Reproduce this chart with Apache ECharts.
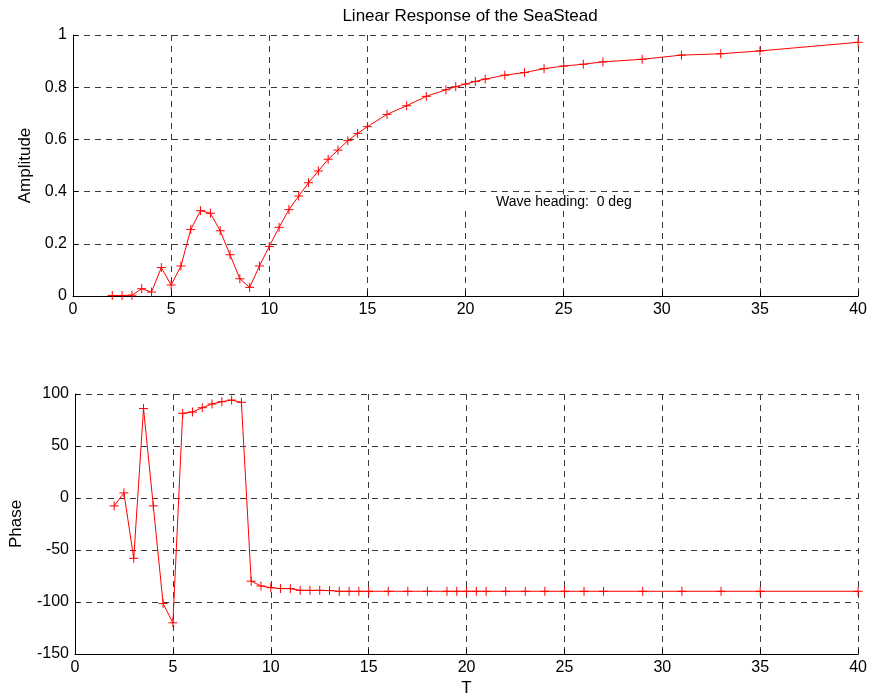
<!DOCTYPE html>
<html>
<head>
<meta charset="utf-8">
<title>Linear Response of the SeaStead</title>
<script src="https://cdn.jsdelivr.net/npm/echarts@6/dist/echarts.min.js"></script>
<style>
  html, body { margin: 0; padding: 0; background: #ffffff; }
  #chart { width: 870px; height: 698px; }
</style>
</head>
<body>
<div id="chart"></div>
<script>
// Wave period T (s) at which the response was evaluated
const periods = [2, 2.5, 3, 3.5, 4, 4.5, 5, 5.5, 6, 6.5, 7, 7.5, 8, 8.5, 9, 9.5,
  10, 10.5, 11, 11.5, 12, 12.5, 13, 13.5, 14, 14.5, 15, 16, 17, 18, 19, 19.5,
  20, 20.5, 21, 22, 23, 24, 25, 26, 27, 29, 31, 33, 35, 40];

// Response amplitude operator
const amplitude = [0.002, 0.002, 0.003, 0.028, 0.015, 0.109, 0.042, 0.115, 0.255, 0.327,
  0.317, 0.25, 0.158, 0.066, 0.033, 0.115, 0.19, 0.263, 0.331, 0.383,
  0.434, 0.479, 0.524, 0.559, 0.595, 0.623, 0.649, 0.696, 0.729, 0.765,
  0.79, 0.802, 0.812, 0.822, 0.831, 0.846, 0.856, 0.871, 0.881, 0.888,
  0.897, 0.907, 0.923, 0.928, 0.939, 0.972];

// Response phase (deg)
const phase = [-7.6, 4.9, -58, 86, -7.6, -101.5, -120, 81.4, 82.7, 86.8,
  90.4, 92.6, 94.2, 92, -80, -84.6, -86.2, -87.1, -87.1, -88.8,
  -88.8, -88.8, -89, -89.7, -89.7, -89.7, -89.7, -89.7, -89.7, -89.7,
  -89.7, -89.7, -89.7, -89.7, -89.7, -89.7, -89.7, -89.7, -89.7, -89.7,
  -89.7, -89.7, -89.7, -89.7, -89.7, -89.7];

// Tick settings
const xTicks = { min: 0, max: 40, interval: 5 };
const ampTicks = { min: 0, max: 1, interval: 0.2 };
const phaseTicks = { min: -150, max: 100, interval: 50 };

// Annotation anchored at the left edge of its white text box
const headingNote = { text: 'Wave heading:  0 deg', t: 19.82, value: 0.36 };

const FONT = '"Liberation Sans", Arial, Helvetica, sans-serif';
const plusSymbol = 'path://M0,-5L0,5M-5,0L5,0';

function pairs(xs, ys) {
  return xs.map((x, i) => [x, ys[i]]);
}

const gridLine = { show: true, lineStyle: { color: '#3a3a3a', width: 1, type: [6, 5] } };
const axisLine = { show: true, onZero: false, lineStyle: { color: '#000000', width: 1 } };
const axisTick = { show: true, inside: true, length: 5, lineStyle: { color: '#000000' } };
const axisLabel = { color: '#000000', fontFamily: FONT, fontSize: 16, margin: 6 };

function xAxis(gridIndex, name) {
  return {
    type: 'value', gridIndex, min: xTicks.min, max: xTicks.max, interval: xTicks.interval,
    name: name || '', nameLocation: 'middle', nameGap: 26,
    nameTextStyle: { color: '#000000', fontFamily: FONT, fontSize: 17 },
    axisLine, axisTick, axisLabel, splitLine: gridLine
  };
}

function yAxis(gridIndex, ticks, name, gap) {
  return {
    type: 'value', gridIndex, min: ticks.min, max: ticks.max, interval: ticks.interval,
    name, nameLocation: 'middle', nameGap: gap,
    nameTextStyle: { color: '#000000', fontFamily: FONT, fontSize: 17 },
    axisLine, axisTick, axisLabel, splitLine: gridLine
  };
}

function responseSeries(index, values, extra) {
  return Object.assign({
    type: 'line',
    xAxisIndex: index, yAxisIndex: index,
    data: pairs(periods, values),
    symbol: plusSymbol,
    symbolSize: 9,
    showAllSymbol: true,
    lineStyle: { color: '#ff0000', width: 1 },
    itemStyle: { color: '#ff0000', borderColor: '#ff0000', borderWidth: 1 },
    emphasis: { disabled: true },
    z: 3
  }, extra || {});
}

const chart = echarts.init(document.getElementById('chart'), null, { renderer: 'canvas' });

chart.setOption({
  animation: false,
  backgroundColor: '#ffffff',
  title: {
    text: 'Linear Response of the SeaStead',
    left: 465, top: 3, textAlign: 'center',
    textStyle: { color: '#000000', fontFamily: FONT, fontSize: 17, fontWeight: 'normal' }
  },
  grid: [
    { left: 73, right: 10, top: 35, height: 261 },
    { left: 73, right: 10, top: 394, height: 261 }
  ],
  xAxis: [xAxis(0), xAxis(1, 'T')],
  yAxis: [yAxis(0, ampTicks, 'Amplitude', 37), yAxis(1, phaseTicks, 'Phase', 50)],
  series: [
    responseSeries(0, amplitude, {
      markPoint: {
        symbol: 'circle', symbolSize: 0, silent: true,
        data: [{ coord: [headingNote.t, headingNote.value] }],
        label: {
          show: true, position: 'right', distance: 0,
          formatter: headingNote.text,
          color: '#000000', fontFamily: FONT, fontSize: 14,
          backgroundColor: '#ffffff', padding: [0, 30, 1, 34]
        }
      }
    }),
    responseSeries(1, phase)
  ]
});
</script>
</body>
</html>
